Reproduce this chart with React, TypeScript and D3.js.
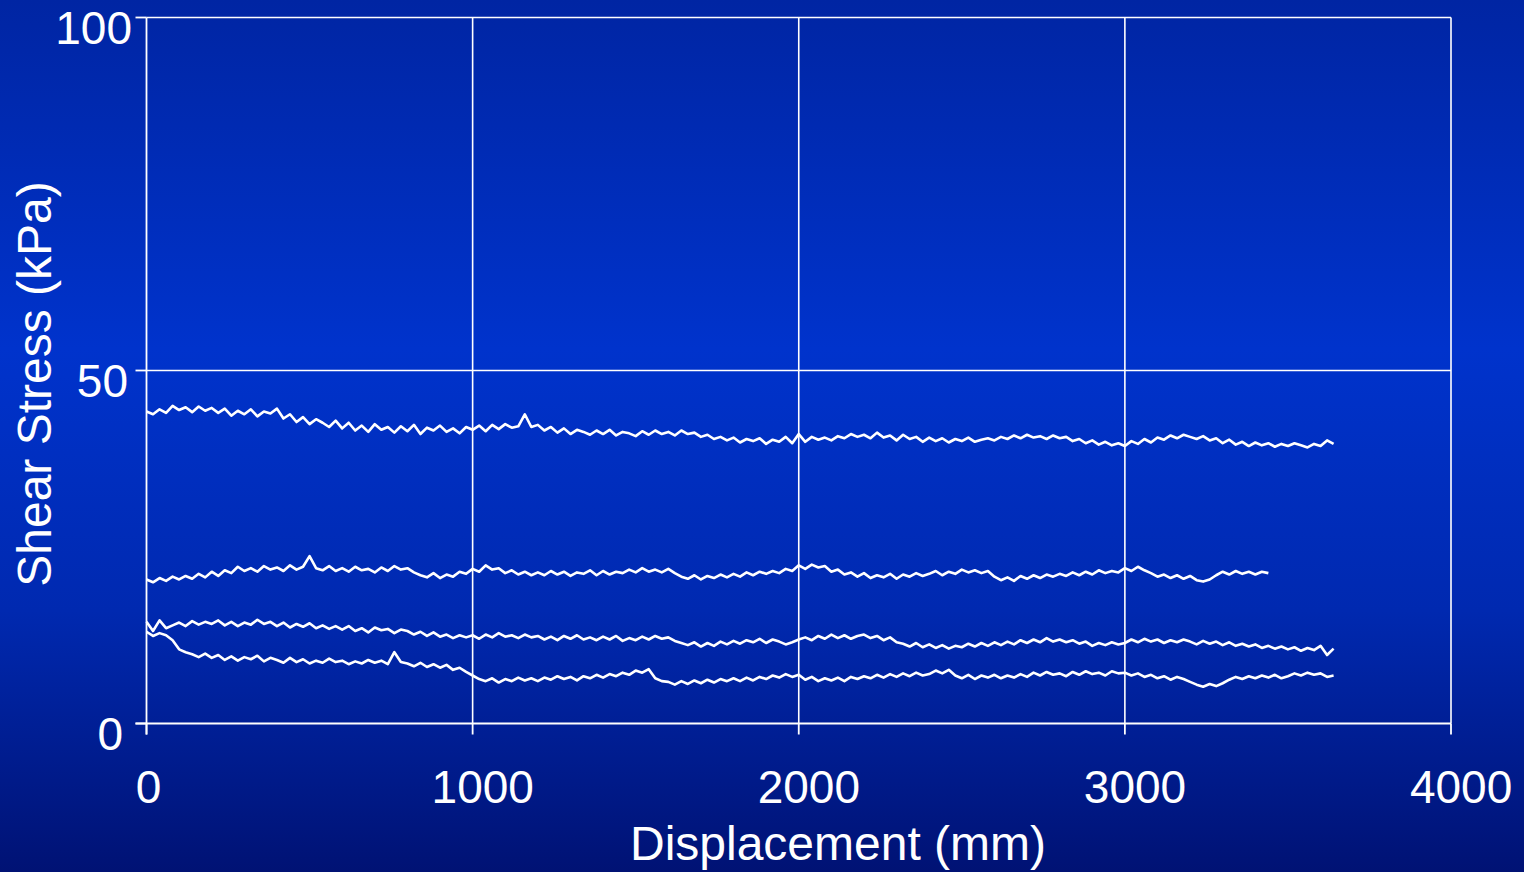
import React from 'react';
import * as d3 from 'd3';

// Displacement step between samples (mm)
const STEP = 20;
const X_TICKS = [0, 1000, 2000, 3000, 4000];
const Y_TICKS = [0, 50, 100];

// Shear stress (kPa) sampled every STEP mm
const seriesA = [
  44.2, 43.8, 44.5, 44.0, 45.0, 44.4, 44.8, 44.1, 44.9, 44.3,
  44.7, 44.0, 44.6, 43.6, 44.3, 43.8, 44.5, 43.5, 44.2, 43.9,
  44.6, 43.2, 43.8, 42.7, 43.4, 42.4, 43.1, 42.6, 42.0, 42.9,
  41.8, 42.6, 41.5, 42.2, 41.3, 42.4, 41.6, 42.0, 41.2, 42.1,
  41.4, 42.3, 41.0, 41.9, 41.5, 42.2, 41.3, 41.8, 41.1, 42.0,
  41.6, 42.2, 41.4, 42.3, 41.7, 42.4, 41.9, 42.1, 43.8, 42.0,
  42.3, 41.5, 42.0, 41.2, 41.8, 41.0, 41.6, 41.3, 40.9, 41.5,
  41.0, 41.6, 40.8, 41.3, 41.1, 40.7, 41.4, 40.9, 41.5, 41.0,
  41.3, 40.8, 41.5, 41.0, 41.2, 40.6, 40.9, 40.3, 40.6, 40.1,
  40.5, 39.8, 40.3, 40.0, 40.4, 39.6, 40.2, 39.9, 40.6, 39.7,
  41.0, 39.9, 40.6, 40.2, 40.5, 40.1, 40.7, 40.4, 41.0, 40.6,
  40.9, 40.4, 41.2, 40.5, 40.8, 40.1, 40.9, 40.3, 40.6, 39.9,
  40.5, 40.0, 40.4, 39.8, 40.3, 40.0, 40.5, 39.9, 40.2, 40.4,
  40.1, 40.6, 40.3, 40.8, 40.4, 40.9, 40.5, 40.7, 40.3, 40.8,
  40.4, 40.6, 40.0, 40.3, 39.7, 40.1, 39.5, 39.9, 39.4, 39.7,
  39.3, 40.0, 39.6, 40.3, 39.8, 40.5, 40.2, 40.8, 40.4, 40.9,
  40.6, 40.3, 40.7, 40.1, 40.4, 39.7, 40.2, 39.5, 39.9, 39.3,
  39.8, 39.4, 39.7, 39.2, 39.6, 39.3, 39.7, 39.4, 39.1, 39.6,
  39.3, 40.1, 39.6,
];

const seriesB = [
  20.4, 20.0, 20.6, 20.2, 20.8, 20.4, 20.9, 20.5, 21.2, 20.7,
  21.5, 20.9, 21.7, 21.3, 22.2, 21.6, 22.0, 21.5, 22.3, 21.8,
  22.1, 21.6, 22.4, 21.8, 22.2, 23.7, 22.0, 21.7, 22.3, 21.6,
  22.0, 21.5, 22.2, 21.7, 21.9, 21.4, 22.1, 21.6, 22.3, 21.8,
  22.0, 21.4, 21.0, 20.7, 21.3, 20.6, 21.1, 20.8, 21.5, 21.2,
  21.9, 21.5, 22.4, 21.8, 22.0, 21.3, 21.7, 21.1, 21.5, 21.0,
  21.4, 21.0, 21.6, 21.1, 21.5, 20.9, 21.4, 21.2, 21.7, 21.0,
  21.6, 21.1, 21.5, 21.3, 21.8, 21.4, 22.0, 21.5, 21.8, 21.4,
  21.9, 21.3, 20.8, 20.5, 21.0, 20.4, 20.9, 20.6, 21.1, 20.7,
  21.2, 20.8, 21.4, 21.0, 21.5, 21.2, 21.6, 21.3, 21.9, 21.6,
  22.4, 21.9, 22.5, 22.1, 22.3, 21.5, 21.8, 21.1, 21.4, 20.8,
  21.3, 20.6, 21.0, 20.7, 21.2, 20.5, 21.1, 20.8, 21.3, 20.9,
  21.2, 21.6, 21.0, 21.5, 21.2, 21.8, 21.4, 21.7, 21.3, 21.6,
  20.8, 20.3, 20.7, 20.2, 20.9, 20.5, 21.0, 20.6, 21.1, 20.8,
  21.2, 20.9, 21.4, 21.0, 21.5, 21.1, 21.7, 21.3, 21.6, 21.4,
  22.0, 21.6, 22.2, 21.7, 21.3, 20.8, 21.1, 20.6, 21.0, 20.5,
  20.9, 20.3, 20.1, 20.4, 21.0, 21.5, 21.1, 21.6, 21.2, 21.5,
  21.1, 21.5, 21.3,
];

const seriesC = [
  14.4, 13.1, 14.6, 13.5, 13.9, 14.3, 13.8, 14.5, 14.0, 14.4,
  14.1, 14.6, 13.9, 14.4, 13.8, 14.3, 14.0, 14.7, 14.1, 14.4,
  13.8, 14.3, 13.6, 14.1, 13.7, 14.2, 13.5, 13.9, 13.4, 13.8,
  13.3, 13.8, 13.1, 13.5, 12.9, 13.6, 13.2, 13.4, 12.8, 13.3,
  13.1, 12.6, 13.0, 12.4, 12.9, 12.3, 12.6, 12.1, 12.5, 12.2,
  12.5, 12.0, 12.6, 12.2, 12.8, 12.3, 12.5, 12.1, 12.6, 12.2,
  12.4, 11.9, 12.3, 11.8, 12.4, 12.0, 12.5, 11.9, 12.2, 11.8,
  12.3, 11.9, 12.4, 11.7, 12.1, 11.8, 12.3, 11.9, 12.4, 12.0,
  12.2, 11.7, 11.4, 11.1, 11.5, 10.9, 11.4, 11.0, 11.6, 11.2,
  11.7, 11.3, 11.8, 11.5, 12.0, 11.4, 11.9, 11.6, 11.2, 11.5,
  11.9, 12.2, 11.8, 12.4, 12.0, 12.6, 12.1, 12.5, 12.0, 12.4,
  12.6, 12.1, 12.4, 11.8, 12.2, 11.5, 11.3, 10.9, 11.4, 10.8,
  11.2, 10.7, 11.1, 10.6, 11.0, 10.8, 11.3, 10.9, 11.4, 11.0,
  11.5, 11.1, 11.6, 11.2, 11.8, 11.4, 11.9, 11.5, 12.1, 11.6,
  11.9, 11.5, 11.8, 11.3, 11.6, 11.0, 11.4, 11.1, 11.5, 11.2,
  11.4, 11.9, 11.5, 12.0, 11.6, 11.9, 11.4, 11.8, 11.5, 11.9,
  11.6, 11.2, 11.7, 11.3, 11.6, 11.1, 11.5, 11.0, 11.3, 10.9,
  11.2, 10.7, 11.0, 10.6, 10.9, 10.5, 10.8, 10.3, 10.7, 10.4,
  11.0, 9.7, 10.6,
];

const seriesD = [
  13.0, 12.4, 12.8, 12.5, 11.8, 10.5, 10.1, 9.8, 9.4, 9.9,
  9.3, 9.7, 9.0, 9.5, 8.9, 9.4, 9.1, 9.6, 8.8, 9.3,
  9.0, 8.6, 9.3, 8.7, 9.1, 8.5, 8.9, 8.6, 9.2, 8.7,
  8.9, 8.4, 8.8, 8.5, 9.0, 8.6, 8.9, 8.4, 10.1, 8.7,
  8.5, 8.1, 8.6, 8.0, 8.4, 7.9, 8.3, 7.6, 7.9, 7.3,
  6.8, 6.3, 6.0, 6.4, 5.8, 6.3, 6.0, 6.5, 6.1, 6.4,
  6.0, 6.5, 6.2, 6.7, 6.3, 6.6, 6.1, 6.7, 6.4, 6.9,
  6.5, 7.0, 6.7, 7.2, 6.9, 7.5, 7.2, 7.7, 6.4, 6.0,
  5.9, 5.5, 6.0, 5.6, 6.1, 5.7, 6.2, 5.8, 6.3, 6.0,
  6.4, 6.0, 6.5, 6.1, 6.6, 6.3, 6.8, 6.5, 7.0, 6.6,
  6.9, 6.2, 6.6, 6.0, 6.4, 6.1, 6.5, 6.0, 6.6, 6.3,
  6.7, 6.4, 6.9, 6.5, 7.0, 6.6, 7.1, 6.7, 7.2, 6.8,
  7.0, 7.5, 7.1, 7.6, 6.8, 6.4, 6.9, 6.3, 6.8, 6.5,
  6.9, 6.4, 6.8, 6.5, 7.0, 6.6, 7.2, 6.8, 7.3, 6.9,
  7.1, 6.7, 7.3, 6.9, 7.4, 7.0, 7.2, 6.8, 7.4, 7.1,
  7.2, 6.8, 7.1, 6.6, 6.9, 6.4, 6.7, 6.2, 6.6, 6.3,
  5.9, 5.5, 5.2, 5.6, 5.3, 5.7, 6.2, 6.6, 6.3, 6.7,
  6.4, 6.8, 6.5, 6.9, 6.4, 6.7, 7.1, 6.8, 7.2, 6.9,
  7.1, 6.6, 6.8,
];

const SERIES = [seriesA, seriesB, seriesC, seriesD];

export default function App() {
  const W = 1524;
  const H = 872;
  const x = d3.scaleLinear().domain([0, 4000]).range([146.5, 1451]);
  const y = d3.scaleLinear().domain([0, 100]).range([723.5, 17.5]);
  const line = d3
    .line<number>()
    .x((_, i) => x(i * STEP))
    .y((d) => y(d));
  const font = "'Liberation Sans', Arial, Helvetica, sans-serif";
  const x0 = x(0);
  const y0 = y(0);
  const yTop = y(100);
  const xRight = x(4000);

  return (
    <svg
      width={W}
      height={H}
      style={{ position: 'absolute', left: 0, top: 0, display: 'block' }}
    >
      <defs>
        <linearGradient id="bg" x1="0" y1="0" x2="0" y2="1">
          <stop offset="0%" stopColor="#0025a3" />
          <stop offset="40%" stopColor="#0033cc" />
          <stop offset="70%" stopColor="#0029b0" />
          <stop offset="100%" stopColor="#001274" />
        </linearGradient>
      </defs>
      <rect x={0} y={0} width={W} height={H} fill="url(#bg)" />

      {/* grid lines */}
      {X_TICKS.filter((t) => t > 0).map((t) => (
        <line key={'gx' + t} x1={x(t)} x2={x(t)} y1={yTop} y2={y0} stroke="#fff" strokeWidth={1.6} />
      ))}
      {Y_TICKS.filter((t) => t > 0).map((t) => (
        <line key={'gy' + t} x1={x0} x2={xRight} y1={y(t)} y2={y(t)} stroke="#fff" strokeWidth={1.6} />
      ))}

      {/* axes */}
      <line x1={x0} x2={x0} y1={yTop} y2={y0 + 11} stroke="#fff" strokeWidth={1.8} />
      <line x1={x0 - 11} x2={xRight} y1={y0} y2={y0} stroke="#fff" strokeWidth={1.8} />
      {X_TICKS.map((t) => (
        <line key={'tx' + t} x1={x(t)} x2={x(t)} y1={y0} y2={y0 + 11} stroke="#fff" strokeWidth={1.8} />
      ))}
      {Y_TICKS.map((t) => (
        <line key={'ty' + t} x1={x0 - 11} x2={x0} y1={y(t)} y2={y(t)} stroke="#fff" strokeWidth={1.8} />
      ))}

      {/* tick labels */}
      {X_TICKS.map((t) => {
        const s = String(t);
        return (
          <text
            key={'lx' + t}
            x={x(t) + 2 + (s.length - 1) * 2.7}
            y={803}
            fill="#fff"
            fontFamily={font}
            fontSize={46}
            textAnchor="middle"
          >
            {s}
          </text>
        );
      })}
      {Y_TICKS.map((t) => (
        <text
          key={'ly' + t}
          x={t === 100 ? 132 : t === 50 ? 128 : 123}
          y={y(t) + 26}
          fill="#fff"
          fontFamily={font}
          fontSize={46}
          textAnchor="end"
        >
          {t}
        </text>
      ))}

      {/* axis titles */}
      <text
        x={838}
        y={860}
        fill="#fff"
        fontFamily={font}
        fontSize={48}
        textAnchor="middle"
      >
        Displacement (mm)
      </text>
      <text
        transform={`translate(51,384) rotate(-90)`}
        fill="#fff"
        fontFamily={font}
        fontSize={48}
        textAnchor="middle"
      >
        Shear Stress (kPa)
      </text>

      {/* data lines */}
      {SERIES.map((s, i) => (
        <path
          key={'s' + i}
          d={line(s) || ''}
          fill="none"
          stroke="#fff"
          strokeWidth={2.6}
          strokeLinejoin="round"
        />
      ))}
    </svg>
  );
}
